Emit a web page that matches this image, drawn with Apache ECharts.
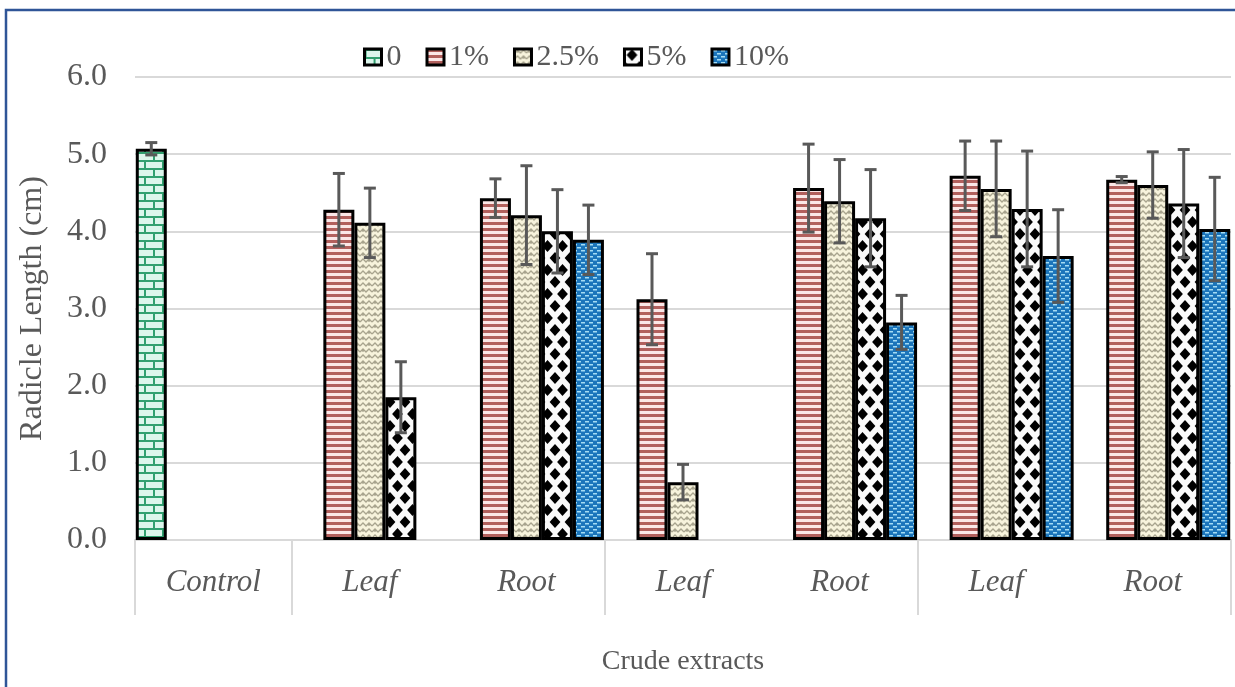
<!DOCTYPE html>
<html>
<head>
<meta charset="utf-8">
<script src="https://cdn.jsdelivr.net/npm/echarts@6/dist/echarts.min.js"></script>
<style>
html,body{margin:0;padding:0;background:#fff;}
#chart{width:1235px;height:687px;}
</style>
</head>
<body>
<div id="chart"></div>
<script>
// ---- data ----
var categories = ['Control', 'Leaf', 'Root', 'Leaf', 'Root', 'Leaf', 'Root'];
var seriesNames = ['0', '1%', '2.5%', '5%', '10%'];
var vals0   = [5.07, null, null, null, null, null, null];
var vals1   = [null, 4.28, 4.43, 3.12, 4.56, 4.72, 4.67];
var vals25  = [null, 4.11, 4.21, 0.75, 4.39, 4.55, 4.60];
var vals5   = [null, 1.85, 4.00, null, 4.17, 4.29, 4.36];
var vals10  = [null, null, 3.89, null, 2.82, 3.68, 4.03];
var err0    = [0.08, null, null, null, null, null, null];
var err1    = [null, 0.47, 0.25, 0.59, 0.57, 0.45, 0.04];
var err25   = [null, 0.45, 0.64, 0.23, 0.54, 0.62, 0.43];
var err5    = [null, 0.46, 0.54, null, 0.63, 0.75, 0.70];
var err10   = [null, null, 0.45, null, 0.35, 0.60, 0.67];
var yTicks  = [0, 1, 2, 3, 4, 5, 6];

var allVals = [vals0, vals1, vals25, vals5, vals10];
var allErrs = [err0, err1, err25, err5, err10];

// ---- patterns ----
function mk(w, h, draw) {
  var c = document.createElement('canvas');
  c.width = w; c.height = h;
  draw(c.getContext('2d'));
  return { image: c, repeat: 'repeat' };
}
var patBrick = mk(18, 16, function (g) {
  g.fillStyle = '#dcf6ec'; g.fillRect(0, 0, 18, 16);
  g.strokeStyle = '#32a070'; g.lineWidth = 2;
  g.beginPath();
  g.moveTo(0, 1); g.lineTo(18, 1);
  g.moveTo(0, 9); g.lineTo(18, 9);
  g.moveTo(1, 1); g.lineTo(1, 9);
  g.moveTo(10, 9); g.lineTo(10, 17);
  g.stroke();
});
var patStripe = mk(4, 6, function (g) {
  g.fillStyle = '#fbe7e7'; g.fillRect(0, 0, 4, 6);
  g.fillStyle = '#b2605d'; g.fillRect(0, 0, 4, 3);
});
var patWeave = mk(12, 12, function (g) {
  g.fillStyle = '#f7f3dc'; g.fillRect(0, 0, 12, 12);
  g.strokeStyle = '#a8a48e'; g.lineWidth = 1.3;
  g.beginPath();
  g.moveTo(0, 4); g.lineTo(3, 1); g.lineTo(6, 4); g.lineTo(9, 1); g.lineTo(12, 4);
  g.moveTo(0, 10); g.lineTo(3, 7); g.lineTo(6, 10); g.lineTo(9, 7); g.lineTo(12, 10);
  g.moveTo(3, 1); g.lineTo(3, 4);
  g.moveTo(9, 7); g.lineTo(9, 10);
  g.stroke();
});
var patDiamond = mk(15, 24, function (g) {
  g.fillStyle = '#fafafa'; g.fillRect(0, 0, 15, 24);
  g.fillStyle = '#000';
  function d(cx, cy) {
    var rx = 5.4, ry = 6;
    g.beginPath(); g.moveTo(cx, cy - ry); g.lineTo(cx + rx, cy); g.lineTo(cx, cy + ry); g.lineTo(cx - rx, cy); g.closePath(); g.fill();
  }
  d(7.5, 6); d(0, 18); d(15, 18); d(7.5, 30); d(0, -6); d(15, -6);
});
var patDots = mk(8, 6, function (g) {
  g.fillStyle = '#1b75bb'; g.fillRect(0, 0, 8, 6);
  g.fillStyle = '#a4dcf4';
  g.fillRect(1, 1, 4, 1.5);
  g.fillRect(5, 4, 3, 1.5); g.fillRect(0, 4, 1, 1.5);
});
var patterns = [patBrick, patStripe, patWeave, patDiamond, patDots];

var GAP = 0.01;
var series = [];
allVals.forEach(function (v, k) {
  series.push({
    type: 'bar',
    name: seriesNames[k],
    data: v,
    barGap: '0%',
    barCategoryGap: (GAP * 100) + '%',
    itemStyle: { color: patterns[k], borderColor: '#000', borderWidth: 3 },
    z: 2
  });
});
allVals.forEach(function (v, k) {
  var d = [];
  v.forEach(function (val, i) {
    if (val != null && allErrs[k][i] != null) d.push([i, val - allErrs[k][i], val + allErrs[k][i]]);
  });
  series.push({
    type: 'custom',
    name: 'err' + k,
    data: d,
    z: 10,
    encode: { x: 0, y: [1, 2] },
    renderItem: function (params, api) {
      var x = api.value(0), lo = api.value(1), hi = api.value(2);
      var catW = api.size([1, 0])[0];
      var totalW = catW * (1 - GAP);
      var bw = totalW / 5;
      var cx = api.coord([x, 0])[0] - totalW / 2 + (k + 0.5) * bw;
      var yl = api.coord([x, lo])[1], yh = api.coord([x, hi])[1];
      var cap = 6;
      var st = { stroke: '#595959', lineWidth: 3 };
      return {
        type: 'group', children: [
          { type: 'line', shape: { x1: cx, y1: yl, x2: cx, y2: yh }, style: st },
          { type: 'line', shape: { x1: cx - cap, y1: yl, x2: cx + cap, y2: yl }, style: st },
          { type: 'line', shape: { x1: cx - cap, y1: yh, x2: cx + cap, y2: yh }, style: st }
        ]
      };
    }
  });
});

var FONT = '"Liberation Serif", "Times New Roman", serif';
var chart = echarts.init(document.getElementById('chart'));
chart.setOption({
  animation: false,
  backgroundColor: '#fff',
  textStyle: { fontFamily: FONT },
  graphic: [
    { type: 'polyline', shape: { points: [[6, 700], [6, 10], [1240, 10]] },
      style: { stroke: '#2f5597', lineWidth: 2.5, fill: null }, z: 100 }
  ],
  legend: {
    data: seriesNames,
    left: 358, top: 37,
    itemWidth: 17, itemHeight: 16, itemGap: 24,
    icon: 'rect',
    itemStyle: { borderColor: '#000', borderWidth: 3 },
    textStyle: { fontFamily: FONT, fontSize: 30, color: '#595959', padding: [0, 0, 0, 0] }
  },
  grid: { left: 135, right: 4, top: 77, bottom: 147, containLabel: false },
  xAxis: {
    type: 'category',
    data: categories,
    axisLine: { lineStyle: { color: '#d9d9d9', width: 2 } },
    axisTick: {
      show: true, length: 75, lineStyle: { color: '#d9d9d9', width: 2 },
      interval: function (i) { return i === 0 || i === 1 || i === 3 || i === 5 || i === 7; }
    },
    axisLabel: { fontFamily: FONT, fontSize: 31, fontStyle: 'italic', color: '#595959', margin: 27, interval: 0 },
    name: 'Crude extracts',
    nameLocation: 'middle',
    nameGap: 108,
    nameTextStyle: { fontFamily: FONT, fontSize: 28, color: '#595959' }
  },
  yAxis: {
    type: 'value',
    min: yTicks[0], max: yTicks[yTicks.length - 1], interval: 1,
    axisLine: { show: false },
    axisTick: { show: false },
    splitLine: { lineStyle: { color: '#d9d9d9', width: 2 } },
    axisLabel: { fontFamily: FONT, fontSize: 32, color: '#595959', margin: 28,
      formatter: function (v) { return v.toFixed(1); } },
    name: 'Radicle Length (cm)',
    nameLocation: 'middle',
    nameGap: 86,
    nameTextStyle: { fontFamily: FONT, fontSize: 32, color: '#595959' }
  },
  series: series
});
</script>
</body>
</html>
